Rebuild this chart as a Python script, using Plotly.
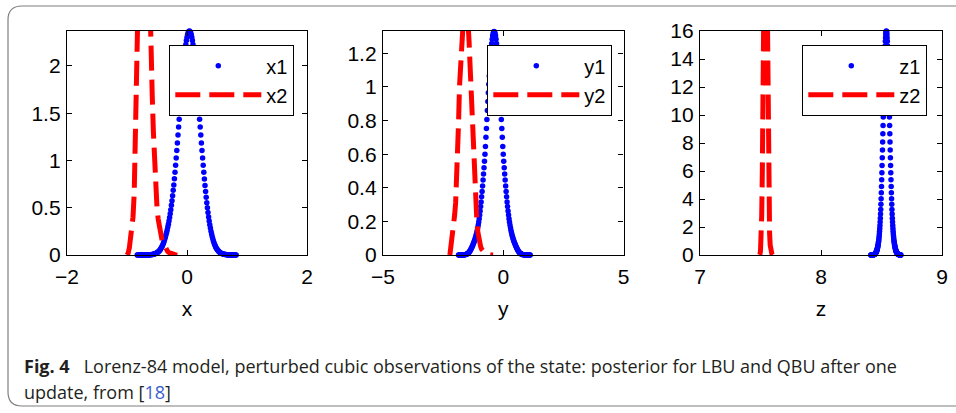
import numpy as np
import plotly.graph_objects as go

# ---------------- data ----------------
# Panel x : LBU posterior (x1, blue dots) and QBU posterior (x2, red dashed)
X1_START, X1_STEP = -0.83, 0.01
X1_DENS = [0, 0, 0, 0, 0, 0, 0, 0, 0, 0, 0, 0, 0, 0, 0, 0, 0, 0, 0,
           0.001, 0.001, 0.002, 0.002, 0.003, 0.004, 0.005, 0.006, 0.008, 0.010,
           0.012, 0.014, 0.017, 0.020, 0.024, 0.028, 0.033, 0.039, 0.046, 0.054,
           0.063, 0.073, 0.085, 0.098, 0.113, 0.130, 0.148, 0.168, 0.190, 0.213,
           0.238, 0.265, 0.295, 0.326, 0.360, 0.397, 0.437, 0.480, 0.526, 0.575,
           0.628, 0.685, 0.740, 0.806, 0.875, 0.949, 1.026, 1.105, 1.186, 1.269,
           1.353, 1.437, 1.522, 1.606, 1.688, 1.769, 1.847, 1.922, 1.993, 2.060,
           2.122, 2.177, 2.227, 2.270, 2.305, 2.333, 2.354, 2.366,
           2.370,
           2.366, 2.354, 2.333, 2.305, 2.270, 2.227, 2.177, 2.122, 2.060, 1.993,
           1.922, 1.847, 1.769, 1.688, 1.606, 1.522, 1.437, 1.353, 1.269, 1.186,
           1.105, 1.026, 0.949, 0.875, 0.804, 0.736, 0.671, 0.610, 0.553, 0.500,
           0.449, 0.403, 0.360, 0.321, 0.285, 0.252, 0.222, 0.195, 0.171, 0.149,
           0.129, 0.112, 0.097, 0.083, 0.071, 0.061, 0.052, 0.044, 0.037, 0.031,
           0.026, 0.022, 0.018, 0.015, 0.013, 0.010, 0.009, 0.007, 0.006, 0.005,
           0.004, 0.003, 0.002, 0.002, 0.001, 0.001,
           0, 0, 0, 0, 0, 0, 0, 0, 0, 0, 0, 0]
X2_START, X2_STEP = -1.00, 0.02
X2_DENS = [0.0, 0.02, 0.08, 0.17, 0.27, 0.40, 0.65, 1.15, 1.85, 2.55,
           3.20, 3.80, 4.30, 4.60, 4.70, 4.60, 4.35, 3.90, 3.30, 2.60,
           2.05, 1.70, 1.30, 0.95, 0.68, 0.50, 0.38, 0.29, 0.22, 0.17,
           0.13, 0.10, 0.07, 0.05, 0.035, 0.025, 0.018, 0.012, 0.008, 0.005,
           0.003, 0.001, 0.0]

# Panel y
Y1_START, Y1_STEP = -1.86, 0.02
Y1_DENS = [0, 0, 0, 0, 0, 0, 0, 0, 0, 0,
           0.001, 0.001, 0.001, 0.002, 0.002, 0.003, 0.004, 0.005, 0.007, 0.009,
           0.011, 0.014, 0.017, 0.021, 0.025, 0.030, 0.035, 0.041, 0.047, 0.054,
           0.061, 0.068, 0.076, 0.084, 0.092, 0.101, 0.111, 0.122, 0.134, 0.147,
           0.162, 0.178, 0.196, 0.216, 0.238, 0.262, 0.288, 0.316, 0.346, 0.378,
           0.411, 0.446, 0.482, 0.519, 0.558, 0.600, 0.645, 0.700, 0.753, 0.807,
           0.860, 0.914, 0.966, 1.016, 1.065, 1.111, 1.154, 1.193, 1.228, 1.258,
           1.284, 1.304, 1.318, 1.327,
           1.330,
           1.327, 1.318, 1.304, 1.284,
           1.258, 1.228, 1.193, 1.154, 1.111, 1.065, 1.016, 0.966, 0.914, 0.860,
           0.807, 0.753, 0.700, 0.645, 0.600, 0.558, 0.519, 0.482, 0.446, 0.411,
           0.378, 0.346, 0.316, 0.288, 0.262, 0.238, 0.216, 0.196, 0.178, 0.162,
           0.147, 0.134, 0.122, 0.111, 0.101, 0.092, 0.084, 0.076, 0.068, 0.061,
           0.054, 0.047, 0.041, 0.035, 0.030, 0.025, 0.021, 0.017, 0.014, 0.011,
           0.009, 0.007, 0.005, 0.004, 0.003, 0.002, 0.002, 0.001, 0.001, 0.001,
           0, 0, 0, 0, 0, 0, 0, 0, 0, 0, 0]
Y2_START, Y2_STEP = -2.22, 0.04
Y2_DENS = [0.0, 0.04, 0.09, 0.14, 0.19, 0.24, 0.31, 0.42, 0.58, 0.78,
           1.00, 1.20, 1.36, 1.48, 1.56, 1.60, 1.60, 1.56, 1.48, 1.38,
           1.27, 1.13, 0.98, 0.86, 0.74, 0.62, 0.46, 0.31, 0.21, 0.14,
           0.10, 0.07, 0.05, 0.035, 0.025, 0.018, 0.013, 0.009, 0.006, 0.004,
           0.003, 0.002, 0.001, 0.001, 0.0, 0.0]

# Panel z
Z1_START, Z1_STEP = 8.412, 0.0016
Z1_DENS = [0, 0, 0, 0, 0,
           0.001, 0.002, 0.003, 0.004, 0.005, 0.007, 0.009, 0.011, 0.014, 0.018,
           0.022, 0.027, 0.033, 0.040, 0.050, 0.060, 0.070, 0.085, 0.100, 0.120,
           0.140, 0.160, 0.190, 0.220, 0.250, 0.290, 0.330, 0.380, 0.430, 0.490,
           0.550, 0.620, 0.700, 0.780, 0.870, 0.970, 1.080, 1.210, 1.350, 1.510,
           1.690, 1.890, 2.110, 2.360, 2.630, 2.930, 3.255, 3.626, 4.024, 4.448,
           4.900, 5.376, 5.876, 6.399, 6.942, 7.502, 8.077, 8.663, 9.257, 9.854,
           10.449, 11.040, 11.618, 12.182, 12.724, 13.240, 13.725, 14.174, 14.582, 14.946,
           15.260, 15.523, 15.730, 15.879, 15.970,
           16.000,
           15.970, 15.879, 15.730, 15.523, 15.260,
           14.946, 14.582, 14.174, 13.725, 13.240, 12.724, 12.182, 11.618, 11.040, 10.449,
           9.854, 9.257, 8.663, 8.077, 7.502, 6.942, 6.399, 5.876, 5.376, 4.900,
           4.448, 4.024, 3.626, 3.255, 2.930, 2.630, 2.360, 2.110, 1.890, 1.690,
           1.510, 1.350, 1.210, 1.080, 0.970, 0.870, 0.780, 0.700, 0.620, 0.550,
           0.490, 0.430, 0.380, 0.330, 0.290, 0.250, 0.220, 0.190, 0.160, 0.140,
           0.120, 0.100, 0.085, 0.070, 0.060, 0.050, 0.040, 0.033, 0.027, 0.022,
           0.018, 0.014, 0.011, 0.009, 0.007, 0.005, 0.004, 0.003, 0.002, 0.001]
Z2_START, Z2_STEP = 7.49, 0.005
Z2_DENS = [0.0, 0.03, 0.3, 1.1, 2.8, 5.9, 10.6, 16.8, 23.2, 28.1,
           30.0, 28.1, 23.3, 17.0, 11.0, 6.3, 3.3, 1.6, 0.7, 0.3,
           0.12, 0.04, 0.0]

PANELS = [
    dict(name="x", s1=(X1_START, X1_STEP, X1_DENS), s2=(X2_START, X2_STEP, X2_DENS),
         xrange=[-2, 2], xdtick=2, yrange=[0, 2.37], ydtick=0.5),
    dict(name="y", s1=(Y1_START, Y1_STEP, Y1_DENS), s2=(Y2_START, Y2_STEP, Y2_DENS),
         xrange=[-5, 5], xdtick=5, yrange=[0, 1.333], ydtick=0.2),
    dict(name="z", s1=(Z1_START, Z1_STEP, Z1_DENS), s2=(Z2_START, Z2_STEP, Z2_DENS),
         xrange=[7, 9], xdtick=1, yrange=[0, 16], ydtick=2),
]

CAPTION_1 = ("<b>Fig. 4</b>\u00a0\u00a0\u00a0Lorenz-84 model, perturbed cubic observations of the state: "
             "posterior for LBU and QBU after one")
CAPTION_2 = "update, from [<span style='color:#3a5fcd'>18</span>]"

# ---------------- layout geometry (pixels) ----------------
W, H = 956, 413
PLOT_X = [(67, 307), (383, 623.5), (700, 942)]
PLOT_Y = (31, 255)
LEG_RIGHT = [294, 612, 927]
LEG_TOP = 45

def px(x):
    return x / W

def py(y):
    return 1 - y / H

FONT = "Liberation Sans, Arial, Helvetica, sans-serif"
FS = 21

fig = go.Figure()
layout = dict(template="none", width=W, height=H, autosize=False,
              margin=dict(l=0, r=0, t=0, b=0, pad=0),
              paper_bgcolor="white", plot_bgcolor="white",
              font=dict(family=FONT, size=FS, color="black"))

for i, p in enumerate(PANELS):
    n = "" if i == 0 else str(i + 1)
    legname = "legend" + n
    s0, st, d = p["s1"]
    xs1 = s0 + st * np.arange(len(d))
    s0, st, d2 = p["s2"]
    xs2 = s0 + st * np.arange(len(d2))
    fig.add_trace(go.Scatter(x=xs1, y=d, mode="markers", name=p["name"] + "1",
                             marker=dict(color="#0000ff", size=5.5, line=dict(width=0)),
                             cliponaxis=False,
                             xaxis="x" + n, yaxis="y" + n, legend=legname))
    fig.add_trace(go.Scatter(x=xs2, y=d2, mode="lines", name=p["name"] + "2",
                             line=dict(color="#ff0000", width=5, dash="25px,9px"),
                             xaxis="x" + n, yaxis="y" + n, legend=legname))
    axcommon = dict(showline=True, linecolor="black", linewidth=1.3, mirror="ticks",
                    ticks="inside", ticklen=5, tickwidth=1, tickcolor="black",
                    showgrid=False, zeroline=False, automargin=False,
                    tickfont=dict(family=FONT, size=FS, color="black"))
    layout["xaxis" + n] = dict(axcommon, domain=[px(PLOT_X[i][0]), px(PLOT_X[i][1])],
                               range=p["xrange"], dtick=p["xdtick"], tick0=0,
                               anchor="y" + n, ticklabelstandoff=3,
                               title=dict(text=p["name"], font=dict(family=FONT, size=FS),
                                          standoff=13))
    layout["yaxis" + n] = dict(axcommon, domain=[py(PLOT_Y[1]), py(PLOT_Y[0])],
                               range=p["yrange"], dtick=p["ydtick"], tick0=0,
                               anchor="x" + n, ticklabelstandoff=1)
    layout[legname] = dict(x=px(LEG_RIGHT[i]), xanchor="right", y=py(LEG_TOP), yanchor="top",
                           xref="paper", yref="paper",
                           bgcolor="white", bordercolor="black", borderwidth=1.3,
                           font=dict(family=FONT, size=20, color="black"),
                           itemwidth=86, tracegroupgap=0)

# outer rounded frame of the figure panel
fx = lambda v: v / W
fy = lambda v: 1 - v / H
frame = (f"M {fx(980)},{fy(6)} L {fx(22)},{fy(6)} Q {fx(8)},{fy(6)} {fx(8)},{fy(20)} "
         f"L {fx(8)},{fy(392)} Q {fx(8)},{fy(406)} {fx(22)},{fy(406)} L {fx(980)},{fy(406)}")
layout["shapes"] = [dict(type="path", path=frame, xref="paper", yref="paper",
                         line=dict(color="#7f7f7f", width=1.2), layer="below")]

CAP_FONT = "Open Sans, sans-serif"
layout["annotations"] = [
    dict(text=CAPTION_1, x=px(22), y=py(366), xref="paper", yref="paper",
         xanchor="left", yanchor="middle", showarrow=False,
         font=dict(family=CAP_FONT, size=18, color="#231f20")),
    dict(text=CAPTION_2, x=px(22), y=py(392), xref="paper", yref="paper",
         xanchor="left", yanchor="middle", showarrow=False,
         font=dict(family=CAP_FONT, size=18, color="#231f20")),
]
layout["showlegend"] = True
fig.update_layout(**layout)
fig.write_html("out.html")
